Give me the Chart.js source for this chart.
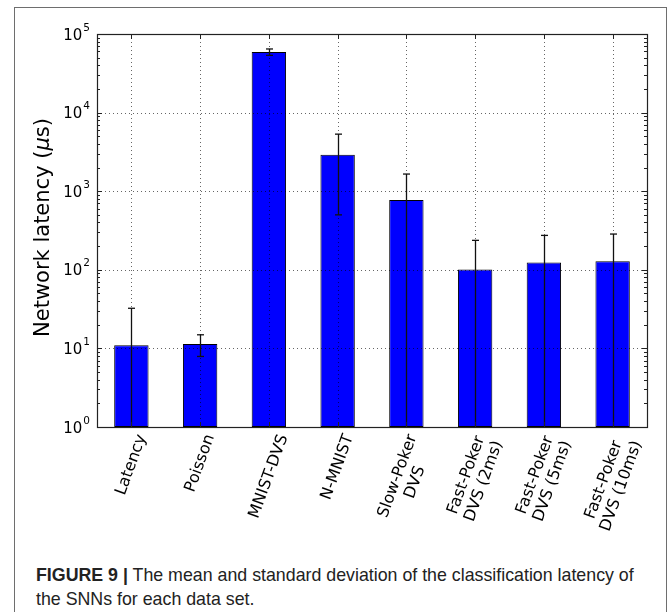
<!DOCTYPE html>
<html><head><meta charset="utf-8">
<script src="https://cdn.jsdelivr.net/npm/chart.js@4.4.1/dist/chart.umd.min.js"></script>
<style>
html,body{margin:0;padding:0;background:#fff;}
#wrap{position:relative;width:670px;height:612px;overflow:hidden;background:#fff;}
#frame{position:absolute;left:14px;top:7px;width:653px;height:700px;border:1px solid #6e6e6e;box-sizing:border-box;}
#chartbox{position:absolute;left:0;top:0;width:670px;height:560px;}
#cap{position:absolute;left:36px;top:563px;white-space:nowrap;font:17.8px "Liberation Sans",Arial,sans-serif;line-height:24px;color:#222;}
</style></head>
<body><div id="wrap"><div id="frame"></div><div id="chartbox"><canvas id="cv" width="670" height="560"></canvas></div>
<div id="cap"><b>FIGURE 9 |</b> The mean and standard deviation of the classification latency of<br>the SNNs for each data set.</div></div>
<script>
const categories = [["Latency"],["Poisson"],["MNIST-DVS"],["N-MNIST"],["Slow-Poker","DVS"],["Fast-Poker","DVS (2ms)"],["Fast-Poker","DVS (5ms)"],["Fast-Poker","DVS (10ms)"]];
const meanLatency = [11.0, 11.4, 59000, 2910, 773, 101, 124, 128];
const stdLatency = [21.4, 3.5, 5500, 2410, 880, 136, 150, 157];
const yTickExponents = [0, 1, 2, 3, 4, 5];
const yAxisTitle = ["Network latency (", "\u03bc", "s)"];

const FONT = '"DejaVu Sans", sans-serif';

const overlay = {
  id: 'overlay',
  afterDatasetsDraw(chart) {
    const ctx = chart.ctx, ca = chart.chartArea, xs = chart.scales.x, ys = chart.scales.y;
    ctx.save();
    // grid (dotted, above bars)
    ctx.strokeStyle = 'rgba(0,0,0,0.6)';
    ctx.lineWidth = 1;
    ctx.setLineDash([1, 3]);
    categories.forEach((c, i) => {
      const x = Math.round(xs.getPixelForValue(i)) + 0.5;
      ctx.beginPath(); ctx.moveTo(x, ca.top); ctx.lineTo(x, ca.bottom); ctx.stroke();
    });
    yTickExponents.forEach(e => {
      const y = Math.round(ys.getPixelForValue(Math.pow(10, e))) + 0.5;
      ctx.beginPath(); ctx.moveTo(ca.left, y); ctx.lineTo(ca.right, y); ctx.stroke();
    });
    ctx.setLineDash([]);
    // error bars
    ctx.strokeStyle = '#111';
    ctx.lineWidth = 1.3;
    meanLatency.forEach((m, i) => {
      const x = Math.round(xs.getPixelForValue(i)) + 0.5;
      const hi = m + stdLatency[i], lo = m - stdLatency[i];
      const yHi = ys.getPixelForValue(hi);
      const yLo = lo > ys.min ? ys.getPixelForValue(lo) : ca.bottom;
      ctx.beginPath(); ctx.moveTo(x, yHi); ctx.lineTo(x, yLo); ctx.stroke();
      ctx.beginPath(); ctx.moveTo(x - 3.5, yHi); ctx.lineTo(x + 3.5, yHi); ctx.stroke();
      if (lo > ys.min) { ctx.beginPath(); ctx.moveTo(x - 3.5, yLo); ctx.lineTo(x + 3.5, yLo); ctx.stroke(); }
    });
    // ticks (inward)
    ctx.strokeStyle = '#222';
    ctx.lineWidth = 1;
    yTickExponents.forEach(e => {
      const y = Math.round(ys.getPixelForValue(Math.pow(10, e))) + 0.5;
      ctx.beginPath(); ctx.moveTo(ca.left, y); ctx.lineTo(ca.left + 5, y);
      ctx.moveTo(ca.right, y); ctx.lineTo(ca.right - 5, y); ctx.stroke();
      if (e < yTickExponents[yTickExponents.length - 1]) {
        for (let k = 2; k <= 9; k++) {
          const ym = Math.round(ys.getPixelForValue(k * Math.pow(10, e))) + 0.5;
          ctx.beginPath(); ctx.moveTo(ca.left, ym); ctx.lineTo(ca.left + 3, ym);
          ctx.moveTo(ca.right, ym); ctx.lineTo(ca.right - 3, ym); ctx.stroke();
        }
      }
    });
    categories.forEach((c, i) => {
      const x = Math.round(xs.getPixelForValue(i)) + 0.5;
      ctx.beginPath(); ctx.moveTo(x, ca.top); ctx.lineTo(x, ca.top + 5);
      ctx.moveTo(x, ca.bottom); ctx.lineTo(x, ca.bottom - 5); ctx.stroke();
    });
    // frame
    ctx.strokeStyle = '#222';
    ctx.lineWidth = 1.2;
    ctx.strokeRect(Math.round(ca.left) + 0.5, Math.round(ca.top) + 0.5, Math.round(ca.right - ca.left), Math.round(ca.bottom - ca.top));
    // y tick labels
    ctx.fillStyle = '#000';
    ctx.textBaseline = 'alphabetic';
    yTickExponents.forEach(e => {
      const y = ys.getPixelForValue(Math.pow(10, e));
      ctx.font = '10.5px ' + FONT;
      const sw = ctx.measureText(String(e)).width;
      ctx.font = '15px ' + FONT;
      const mw = ctx.measureText('10').width;
      const xEnd = ca.left - 7;
      ctx.textAlign = 'left';
      ctx.fillText('10', xEnd - sw - 1 - mw, y + 5.5);
      ctx.font = '10.5px ' + FONT;
      ctx.fillText(String(e), xEnd - sw, y - 3.5);
    });
    // y axis title
    ctx.save();
    ctx.translate(44, (ca.top + ca.bottom) / 2 - 3);
    ctx.rotate(-Math.PI / 2);
    ctx.textBaseline = 'middle';
    ctx.textAlign = 'left';
    const fN = '21px ' + FONT, fI = 'italic 21px ' + FONT;
    ctx.font = fN; const w0 = ctx.measureText(yAxisTitle[0]).width;
    ctx.font = fI; const w1 = ctx.measureText(yAxisTitle[1]).width;
    ctx.font = fN; const w2 = ctx.measureText(yAxisTitle[2]).width;
    let tx = -(w0 + w1 + w2) / 2;
    ctx.font = fN; ctx.fillText(yAxisTitle[0], tx, 0); tx += w0;
    ctx.font = fI; ctx.fillText(yAxisTitle[1], tx, 0); tx += w1;
    ctx.font = fN; ctx.fillText(yAxisTitle[2], tx, 0);
    ctx.restore();
    // x tick labels, rotated 70deg, centred on tick
    const th = 70 * Math.PI / 180, lh = 18.5;
    ctx.font = '16px ' + FONT;
    categories.forEach((lines, i) => {
      const x = xs.getPixelForValue(i);
      let W = 0; lines.forEach(l => { W = Math.max(W, ctx.measureText(l).width); });
      const H = lines.length * lh;
      const bh = W * Math.sin(th) + H * Math.cos(th);
      ctx.save();
      ctx.translate(x, ca.bottom + 5 + bh / 2);
      ctx.rotate(-th);
      ctx.textAlign = 'center';
      ctx.textBaseline = 'middle';
      lines.forEach((l, k) => ctx.fillText(l, 0, (k - (lines.length - 1) / 2) * lh));
      ctx.restore();
    });
    ctx.restore();
  }
};

new Chart(document.getElementById('cv'), {
  type: 'bar',
  data: {
    labels: categories,
    datasets: [{
      data: meanLatency,
      backgroundColor: '#0000ff',
      borderColor: '#000',
      borderWidth: 1,
      borderSkipped: false,
      barPercentage: 0.5,
      categoryPercentage: 1.0
    }]
  },
  options: {
    responsive: false,
    animation: false,
    devicePixelRatio: 1,
    layout: { padding: { left: 97, right: 23, top: 34, bottom: 133 } },
    plugins: { legend: { display: false }, tooltip: { enabled: false } },
    scales: {
      x: { display: false, offset: true },
      y: { type: 'logarithmic', display: false, min: 1, max: 100000 }
    }
  },
  plugins: [overlay]
});
</script>
</body></html>
